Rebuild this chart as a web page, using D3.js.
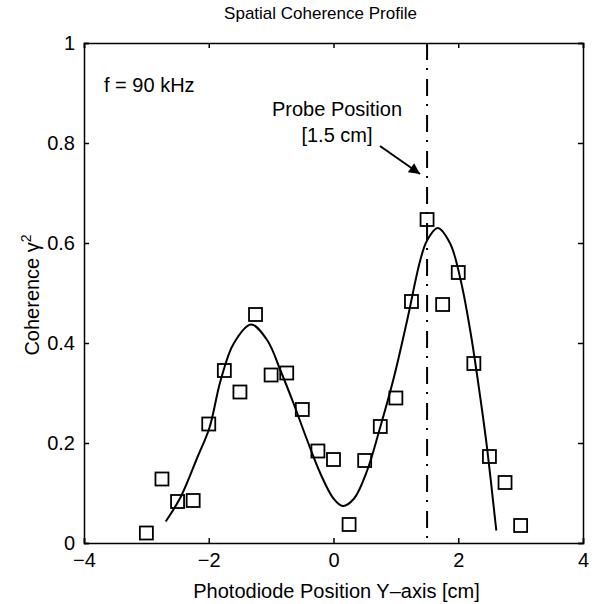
<!DOCTYPE html>
<html>
<head>
<meta charset="utf-8">
<script src="https://cdn.jsdelivr.net/npm/d3@7"></script>
<style>
  body { margin: 0; background: #fff; }
  svg text { font-family: "Liberation Sans", Arial, Helvetica, sans-serif; fill: #000; }
</style>
</head>
<body>
<div id="chart"></div>
<script>
// measured points
var positions = [-3, -2.75, -2.5, -2.25, -2, -1.75, -1.5, -1.25, -1, -0.75, -0.5, -0.25,
  0, 0.25, 0.5, 0.75, 1, 1.25, 1.5, 1.75, 2, 2.25, 2.5, 2.75, 3];
var coherence = [0.02, 0.128, 0.083, 0.085, 0.238, 0.345, 0.302, 0.457, 0.336, 0.340, 0.267, 0.184,
  0.167, 0.037, 0.165, 0.233, 0.29, 0.483, 0.647, 0.477, 0.541, 0.359, 0.173, 0.121, 0.035];

// fitted curve
var fitX = [-2.69, -2.45, -2.18, -1.99, -1.81, -1.6, -1.32, -1.06, -0.85, -0.64, -0.42, -0.21,
  0, 0.15, 0.33, 0.54, 0.75, 0.97, 1.18, 1.39, 1.5, 1.67, 1.87, 2.04, 2.2, 2.36, 2.46, 2.61];
var fitY = [0.043, 0.092, 0.172, 0.23, 0.325, 0.399, 0.437, 0.405, 0.345, 0.279, 0.205, 0.139,
  0.089, 0.074, 0.089, 0.145, 0.232, 0.332, 0.445, 0.565, 0.605, 0.63, 0.599, 0.525, 0.419, 0.285, 0.192, 0.025];

var xTicks = [-4, -2, 0, 2, 4];
var yTicks = [0, 0.2, 0.4, 0.6, 0.8, 1];
var probeX = 1.5;

var margin = { top: 43, right: 11, bottom: 61, left: 84 },
  width = 594 - margin.left - margin.right,
  height = 604 - margin.top - margin.bottom;

var svg = d3.select("#chart")
  .append("svg")
  .attr("width", 594)
  .attr("height", 604)
  .append("g")
  .attr("transform", "translate(" + margin.left + "," + margin.top + ")");

var x = d3.scaleLinear().domain([-4, 4]).range([0, width]);
var y = d3.scaleLinear().domain([0, 1]).range([height, 0]);

function fmt(d) { return d < 0 ? "\u2212" + Math.abs(d) : String(d); }

function styleAxis(g) {
  g.select(".domain").attr("stroke", "#000").attr("stroke-width", 1.5);
  g.selectAll(".tick line").attr("stroke", "#000").attr("stroke-width", 1.5);
  g.selectAll(".tick text").style("font-size", "20px").attr("fill", "#000");
}

// axes, ticks pointing inward, box on all four sides
svg.append("g")
  .attr("transform", "translate(0," + height + ")")
  .call(d3.axisBottom(x).tickValues(xTicks).tickSize(-5).tickPadding(10).tickFormat(fmt))
  .call(styleAxis);
svg.append("g")
  .call(d3.axisTop(x).tickValues(xTicks).tickSize(-5).tickFormat(""))
  .call(styleAxis);
svg.append("g")
  .call(d3.axisLeft(y).tickValues(yTicks).tickSize(-5).tickPadding(9).tickFormat(d3.format("")))
  .call(styleAxis);
svg.append("g")
  .attr("transform", "translate(" + width + ",0)")
  .call(d3.axisRight(y).tickValues(yTicks).tickSize(-5).tickFormat(""))
  .call(styleAxis);

// probe line
svg.append("line")
  .attr("x1", x(probeX)).attr("x2", x(probeX))
  .attr("y1", 0).attr("y2", height)
  .attr("stroke", "#000")
  .attr("stroke-width", 2)
  .attr("stroke-dasharray", "17,8,2,9");

// fit curve
var line = d3.line()
  .x(function (d, i) { return x(fitX[i]); })
  .y(function (d, i) { return y(fitY[i]); })
  .curve(d3.curveCatmullRom.alpha(0.5));

svg.append("path")
  .datum(fitX)
  .attr("d", line)
  .attr("fill", "none")
  .attr("stroke", "#000")
  .attr("stroke-width", 2);

// squares
var s = 13;
svg.selectAll("rect.pt")
  .data(positions)
  .enter()
  .append("rect")
  .attr("class", "pt")
  .attr("x", function (d) { return x(d) - s / 2; })
  .attr("y", function (d, i) { return y(coherence[i]) - s / 2; })
  .attr("width", s)
  .attr("height", s)
  .attr("fill", "none")
  .attr("stroke", "#000")
  .attr("stroke-width", 1.8);

// annotations
svg.append("text")
  .attr("x", 20).attr("y", 49)
  .style("font-size", "20px")
  .text("f = 90 kHz");

svg.append("text")
  .attr("x", 253).attr("y", 73)
  .attr("text-anchor", "middle")
  .style("font-size", "20px")
  .text("Probe Position");
svg.append("text")
  .attr("x", 253).attr("y", 99)
  .attr("text-anchor", "middle")
  .style("font-size", "20px")
  .text("[1.5 cm]");

svg.append("defs").append("marker")
  .attr("id", "arrow")
  .attr("viewBox", "0 0 10 10")
  .attr("refX", 10).attr("refY", 5)
  .attr("markerWidth", 15).attr("markerHeight", 11)
  .attr("markerUnits", "userSpaceOnUse")
  .attr("orient", "auto")
  .append("path")
  .attr("d", "M0,0 L10,5 L0,10 Z")
  .attr("fill", "#000");

svg.append("line")
  .attr("x1", 296).attr("y1", 103)
  .attr("x2", 336).attr("y2", 131)
  .attr("stroke", "#000")
  .attr("stroke-width", 2)
  .attr("marker-end", "url(#arrow)");

// titles
svg.append("text")
  .attr("x", width / 2 - 13).attr("y", -24)
  .attr("text-anchor", "middle")
  .style("font-size", "17px")
  .text("Spatial Coherence Profile");

svg.append("text")
  .attr("x", width / 2 + 3).attr("y", height + 55)
  .attr("text-anchor", "middle")
  .style("font-size", "20px")
  .text("Photodiode Position Y\u2013axis [cm]");

var yl = svg.append("text")
  .attr("transform", "translate(-45," + (height / 2 + 2) + ") rotate(-90)")
  .attr("text-anchor", "middle")
  .style("font-size", "20px");
yl.append("tspan").text("Coherence \u03b3");
yl.append("tspan").attr("dy", -8).style("font-size", "14px").text("2");
</script>
</body>
</html>
